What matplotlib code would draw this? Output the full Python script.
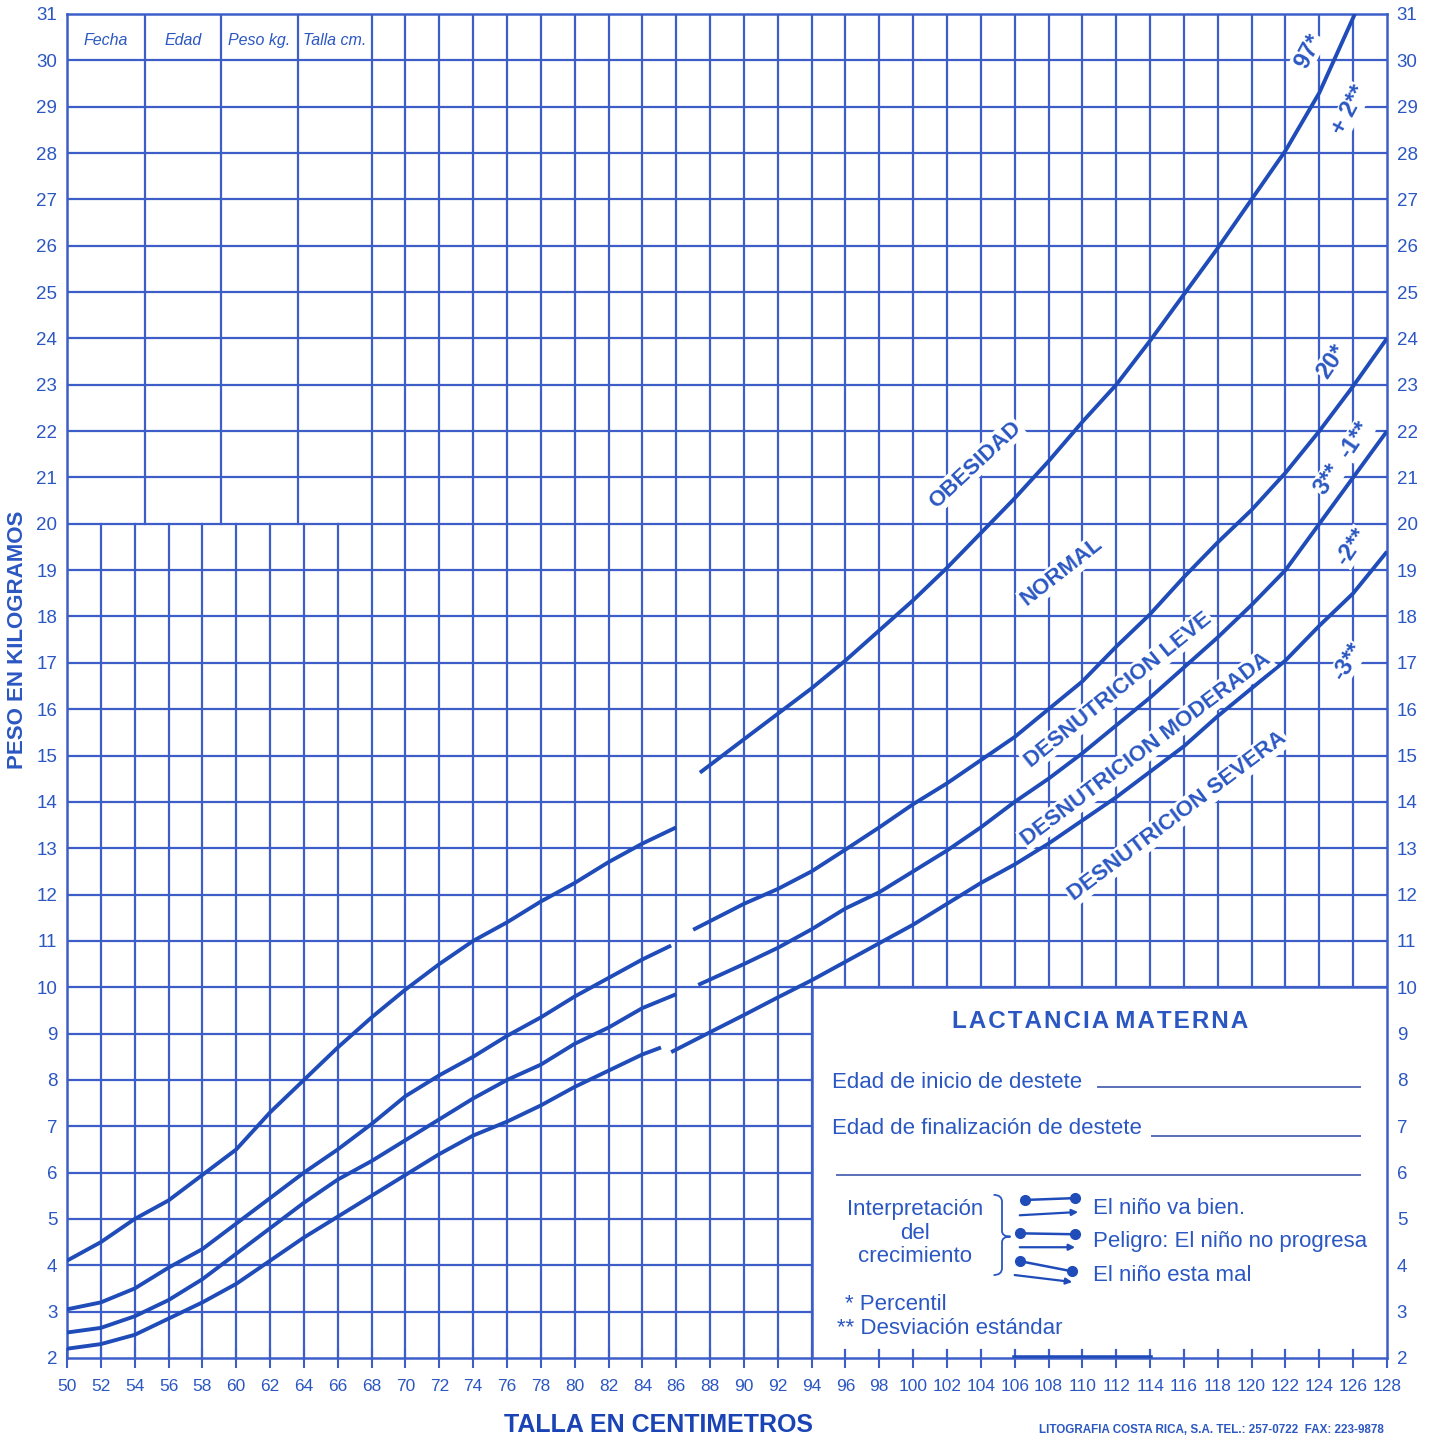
import matplotlib
matplotlib.use("Agg")
import matplotlib.pyplot as plt
import numpy as np
from matplotlib import font_manager
from matplotlib.patches import Rectangle, PathPatch
from matplotlib.path import Path


def pick_font(name, fallback):
    try:
        font_manager.findfont(name, fallback_to_default=False)
        return name
    except Exception:
        return fallback


plt.rcParams['font.family'] = ['Liberation Sans', 'DejaVu Sans']
NARROW = pick_font('Liberation Sans Narrow', 'Liberation Sans')

GRID = '#3d5ec8'
CURVE = '#1f4cb8'
TXT = '#2b57c2'

# curva superior (percentil 97 / +2 DE), tramo acostado y tramo de pie
talla_p97_a = [50, 52, 54, 56, 58, 60, 62, 64, 66, 68, 70, 72, 74, 76, 78, 80, 82, 84, 86]
peso_p97_a = [4.1, 4.5, 5.0, 5.4, 5.95, 6.5, 7.3, 8.0, 8.7, 9.35, 9.95, 10.5, 11.0, 11.4,
              11.85, 12.25, 12.7, 13.1, 13.45]
talla_p97_b = [87.4, 90, 92, 94, 96, 98, 100, 102, 104, 106, 108, 110, 112, 114, 116, 118,
               120, 122, 124, 126.1]
peso_p97_b = [14.63, 15.35, 15.9, 16.45, 17.05, 17.7, 18.35, 19.05, 19.8, 20.55, 21.35, 22.2,
              23.0, 23.95, 24.95, 25.95, 27.0, 28.05, 29.3, 31.0]

# percentil 20 / -1 DE
talla_p20_a = [50, 52, 54, 56, 58, 60, 62, 64, 66, 68, 70, 72, 74, 76, 78, 80, 82, 84, 85.7]
peso_p20_a = [3.05, 3.2, 3.5, 3.95, 4.35, 4.9, 5.45, 6.0, 6.5, 7.05, 7.65, 8.1, 8.5, 8.95,
              9.35, 9.8, 10.2, 10.6, 10.9]
talla_p20_b = [87, 90, 92, 94, 96, 98, 100, 102, 104, 106, 108, 110, 112, 114, 116, 118, 120,
               122, 124, 126, 128]
peso_p20_b = [11.24, 11.8, 12.12, 12.5, 12.97, 13.45, 13.95, 14.4, 14.9, 15.4, 16.0, 16.6,
              17.35, 18.05, 18.85, 19.6, 20.3, 21.1, 22.0, 22.97, 24.0]

# percentil 3 / -2 DE
talla_p3_a = [50, 52, 54, 56, 58, 60, 62, 64, 66, 68, 70, 72, 74, 76, 78, 80, 82, 84, 86]
peso_p3_a = [2.55, 2.65, 2.9, 3.25, 3.7, 4.25, 4.8, 5.35, 5.85, 6.25, 6.7, 7.15, 7.6, 8.0,
             8.33, 8.78, 9.13, 9.55, 9.85]
talla_p3_b = [87.3, 90, 92, 94, 96, 98, 100, 102, 104, 106, 108, 110, 112, 114, 116, 118, 120,
              122, 124, 126, 128]
peso_p3_b = [10.05, 10.5, 10.85, 11.25, 11.7, 12.05, 12.5, 12.95, 13.45, 14.0, 14.5, 15.05,
             15.65, 16.25, 16.9, 17.55, 18.25, 19.0, 20.0, 21.0, 22.0]

# -3 DE
talla_m3_a = [50, 52, 54, 56, 58, 60, 62, 64, 66, 68, 70, 72, 74, 76, 78, 80, 82, 84, 85.1]
peso_m3_a = [2.2, 2.3, 2.5, 2.85, 3.2, 3.6, 4.1, 4.6, 5.05, 5.5, 5.95, 6.4, 6.8, 7.1, 7.45,
             7.85, 8.2, 8.55, 8.7]
talla_m3_b = [85.7, 88, 90, 92, 94, 96, 98, 100, 102, 104, 106, 108, 110, 112, 114, 116, 118,
              120, 122, 124, 126, 128]
peso_m3_b = [8.6, 9.03, 9.4, 9.78, 10.15, 10.55, 10.95, 11.35, 11.8, 12.25, 12.65, 13.1, 13.6,
             14.1, 14.65, 15.2, 15.85, 16.45, 17.05, 17.8, 18.5, 19.4]

x_ticks = list(range(50, 129, 2))
y_ticks = list(range(2, 32))
tabla_cols = [54.6, 59.1, 63.65]
tabla_titulos = ['Fecha', 'Edad', 'Peso kg.', 'Talla cm.']

zonas = ['OBESIDAD', 'NORMAL', 'DESNUTRICION LEVE', 'DESNUTRICION MODERADA', 'DESNUTRICION SEVERA']
zonas_xy = [(103.65, 21.27), (108.8, 18.96), (112.1, 16.41), (113.76, 15.14), (115.6, 13.69)]
zonas_rot = [43, 38, 39, 37, 37]

curvas_lbl = ['97*', '+ 2**', '20*', '3**', '-1**', '-2**', '-3**']
curvas_xy = [(123.35, 30.2), (125.8, 28.93), (124.75, 23.5), (124.5, 20.95), (126.1, 21.8),
             (125.93, 19.5), (125.7, 17.02)]
curvas_rot = [62, 62, 56, 56, 56, 56, 58]

fig = plt.figure(figsize=(14.34, 14.37), dpi=100)
ax = fig.add_axes([67 / 1434, 1 - 1358 / 1437, 1320 / 1434, 1344 / 1437])
ax.set_xlim(50, 128)
ax.set_ylim(2, 31)

# cuadricula
lw_g = 1.6
for x in x_ticks[1:-1]:
    top = 20 if x < 68 else 31
    ax.plot([x, x], [2, top], color=GRID, lw=lw_g, zorder=1)
for x in tabla_cols:
    ax.plot([x, x], [20, 31], color=GRID, lw=lw_g, zorder=1)
for y in y_ticks[1:-1]:
    ax.plot([50, 128], [y, y], color=GRID, lw=lw_g, zorder=1)
for s in ax.spines.values():
    s.set_color(GRID)
    s.set_linewidth(1.8)

for t, x0, x1 in zip(tabla_titulos, [50] + tabla_cols, tabla_cols + [68]):
    ax.text((x0 + x1) / 2, 30.42, t, ha='center', va='center', style='italic',
            fontsize=11.5, color=TXT, zorder=3)

# curvas
for xs, ys in [(talla_p97_a, peso_p97_a), (talla_p97_b, peso_p97_b),
               (talla_p20_a, peso_p20_a), (talla_p20_b, peso_p20_b),
               (talla_p3_a, peso_p3_a), (talla_p3_b, peso_p3_b),
               (talla_m3_a, peso_m3_a), (talla_m3_b, peso_m3_b)]:
    ax.plot(xs, ys, color=CURVE, lw=2.8, solid_capstyle='butt', solid_joinstyle='round', zorder=4)

for t, (x, y), r in zip(zonas, zonas_xy, zonas_rot):
    ax.text(x, y, t, rotation=r, rotation_mode='anchor', ha='center', va='center',
            fontsize=16, fontweight='bold', color=TXT, zorder=5,
            bbox=dict(facecolor='white', edgecolor='none', pad=1.2))
for t, (x, y), r in zip(curvas_lbl, curvas_xy, curvas_rot):
    ax.text(x, y, t, rotation=r, rotation_mode='anchor', ha='center', va='center',
            fontsize=17, fontweight='bold', color=TXT, zorder=5,
            bbox=dict(facecolor='white', edgecolor='none', pad=0.4))

# recuadro de lactancia materna
ax.add_patch(Rectangle((94, 2), 34, 8, facecolor='white', edgecolor=GRID, lw=1.8, zorder=6))
for x in x_ticks:
    if 94 < x < 128:
        ax.plot([x, x], [2, 2.17], color=GRID, lw=lw_g, zorder=7)
ax.plot([106, 114], [2.0, 2.0], color=CURVE, lw=4, zorder=7)

kw = dict(color=TXT, zorder=8, family=[NARROW, 'Liberation Sans'])
ax.text(111.05, 9.25, 'L A C T A N C I A   M A T E R N A'.replace(' ', '\u200a'),
        ha='center', va='center', fontsize=17.5, fontweight='bold', color=TXT, zorder=8)
ax.text(95.2, 7.95, 'Edad de inicio de destete', ha='left', va='center', fontsize=16, **kw)
ax.text(95.2, 6.95, 'Edad de finalización de destete', ha='left', va='center', fontsize=16, **kw)
ax.plot([110.9, 126.4], [7.84, 7.84], color='#5a6fb5', lw=1.4, zorder=8)
ax.plot([114.1, 126.4], [6.8, 6.8], color='#5a6fb5', lw=1.4, zorder=8)
ax.plot([95.5, 126.4], [5.95, 5.95], color='#5a6fb5', lw=1.4, zorder=8)

ax.text(100.1, 4.69, 'Interpretación\ndel\ncrecimiento', ha='center', va='center',
        fontsize=16, linespacing=1.15, **kw)
ax.text(110.6, 5.23, 'El niño va bien.', ha='left', va='center', fontsize=16, **kw)
ax.text(110.6, 4.52, 'Peligro: El niño no progresa', ha='left', va='center', fontsize=16, **kw)
ax.text(110.6, 3.77, 'El niño esta mal', ha='left', va='center', fontsize=16, **kw)
ax.text(96.0, 3.16, '* Percentil', ha='left', va='center', fontsize=16, **kw)
ax.text(95.5, 2.64, '** Desviación estándar', ha='left', va='center', fontsize=16, **kw)

# llave
x0, xm, xt = 104.75, 105.25, 105.75
yt, yb, ym = 5.52, 3.79, 4.62
verts = [(x0, yt), (xm, yt), (xm, yt - 0.15), (xm, ym + 0.12), (xm, ym), (xt, ym),
         (xm, ym), (xm, ym - 0.12), (xm, yb + 0.15), (xm, yb), (x0, yb)]
codes = [Path.MOVETO, Path.CURVE3, Path.CURVE3, Path.LINETO, Path.CURVE3, Path.CURVE3,
         Path.CURVE3, Path.CURVE3, Path.LINETO, Path.CURVE3, Path.CURVE3]
ax.add_patch(PathPatch(Path(verts, codes), facecolor='none', edgecolor=TXT, lw=1.3, zorder=8))

# iconos
iconos = [((106.6, 5.41), (109.57, 5.45), (106.3, 5.08), (109.75, 5.15)),
          ((106.3, 4.69), (109.57, 4.67), (106.3, 4.39), (109.57, 4.39)),
          ((106.3, 4.09), (109.4, 3.87), (106.0, 3.79), (109.4, 3.64))]
for p0, p1, a0, a1 in iconos:
    ax.plot([p0[0], p1[0]], [p0[1], p1[1]], color=CURVE, lw=1.8, marker='o', ms=7, zorder=8)
    ax.annotate('', xy=a1, xytext=a0, zorder=8,
                arrowprops=dict(arrowstyle='-|>', color=CURVE, lw=1.6, mutation_scale=9,
                                shrinkA=0, shrinkB=0))

# ejes
ax.set_xticks(x_ticks)
ax.set_xticklabels([str(v) for v in x_ticks], fontsize=12.5, color=TXT,
                   family=[NARROW, 'Liberation Sans'])
ax.set_yticks(y_ticks)
ax.set_yticklabels([str(v) for v in y_ticks], fontsize=13.5, color=TXT)
ax.tick_params(axis='x', direction='inout', length=14, width=1.5, color=GRID, pad=8)
ax.tick_params(axis='y', length=0, left=True, right=True, labelleft=True, labelright=True, pad=7)

fig.text(18 / 1434, 1 - 640 / 1437, 'PESO EN KILOGRAMOS', rotation=90, ha='center', va='center',
         fontsize=16, fontweight='bold', color=TXT)
fig.text(658 / 1434, 1 - 1425 / 1437, 'TALLA EN CENTIMETROS', ha='center', va='center',
         fontsize=18, fontweight='bold', color='#1a44b5')
fig.text(1211 / 1434, 1 - 1430 / 1437, 'LITOGRAFIA COSTA RICA, S.A. TEL.: 257-0722  FAX: 223-9878',
         ha='center', va='center', fontsize=8.4, fontweight='bold', color=TXT,
         family=[NARROW, 'Liberation Sans'])

fig.savefig('out.png', dpi=100, facecolor='white')
